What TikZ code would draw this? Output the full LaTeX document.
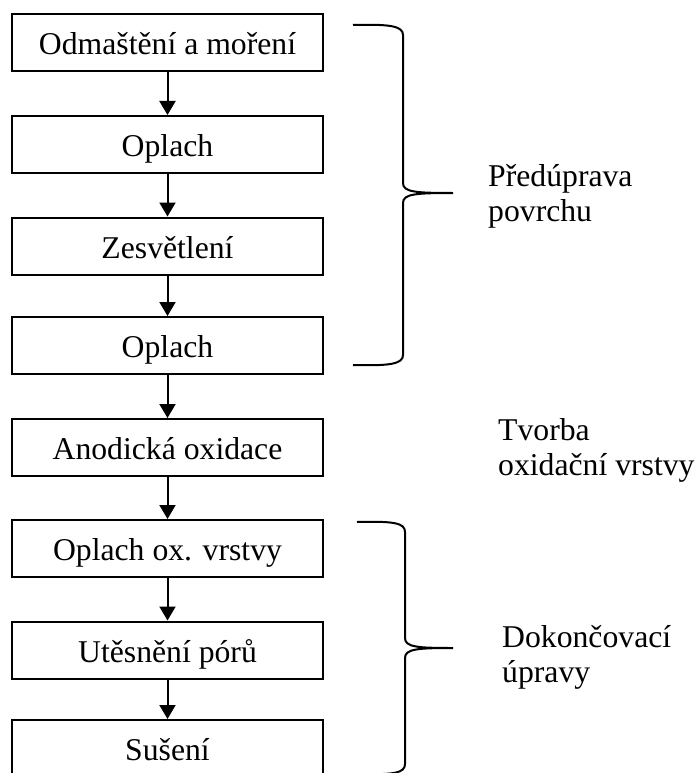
\documentclass[tikz,border=0pt]{standalone}
\usepackage{fontspec}
\setmainfont{Liberation Serif}
\usetikzlibrary{arrows.meta}
\begin{document}
\begin{tikzpicture}[x=1pt,y=-1pt,
  stepbox/.style={draw,line width=2pt,minimum width=311pt,minimum height=57pt,inner sep=0pt,
    text height=24.5pt,text depth=0pt,font=\fontsize{31.7}{35}\selectfont},
  flow/.style={line width=2pt,-{Triangle[width=16pt,length=14pt]}},
  brace/.style={line width=2pt},
  grouplabel/.style={anchor=base west,align=left,inner sep=0pt,font=\fontsize{31.7}{35}\selectfont}]
\useasboundingbox (0,0) rectangle (695,773);
\clip (0,0) rectangle (695,773);
\node[stepbox] (b1) at (167.5,42.5) {Odmaštění a moření};
\node[stepbox] (b2) at (167.5,144.5) {Oplach};
\node[stepbox] (b3) at (167.5,246) {Zesvětlení};
\node[stepbox] (b4) at (167.5,345.5) {Oplach};
\node[stepbox] (b5) at (167.5,447.5) {Anodická oxidace};
\node[stepbox] (b6) at (167.5,548.5) {Oplach ox. vrstvy};
\node[stepbox] (b7) at (167.5,650) {Utěsnění pórů};
\node[stepbox] (b8) at (167.5,748.5) {Sušení};
\foreach \a/\b in {b1/b2,b2/b3,b3/b4,b4/b5,b5/b6,b6/b7,b7/b8}
  \draw[flow] (\a) -- (\b);
\draw[brace] (353,25) .. controls (390,24) and (403,26) .. (403,35) -- (403,183)
  .. controls (403,192) and (415,193) .. (453,193)
  .. controls (415,193) and (403,194) .. (403,203) -- (403,355)
  .. controls (403,364) and (390,366) .. (353,365);
\draw[brace] (357,522) .. controls (394,521) and (405,523) .. (405,532) -- (405,638)
  .. controls (405,647) and (417,648) .. (453,648)
  .. controls (417,648) and (405,649) .. (405,658) -- (405,764)
  .. controls (405,773) and (394,775) .. (357,774);
\node[grouplabel] (l1) at (488,221) {Předúprava\\povrchu};
\node[grouplabel] (l2) at (498,475) {Tvorba\\oxidační vrstvy};
\node[grouplabel] (l3) at (502,682) {Dokončovací\\úpravy};
\end{tikzpicture}
\end{document}
